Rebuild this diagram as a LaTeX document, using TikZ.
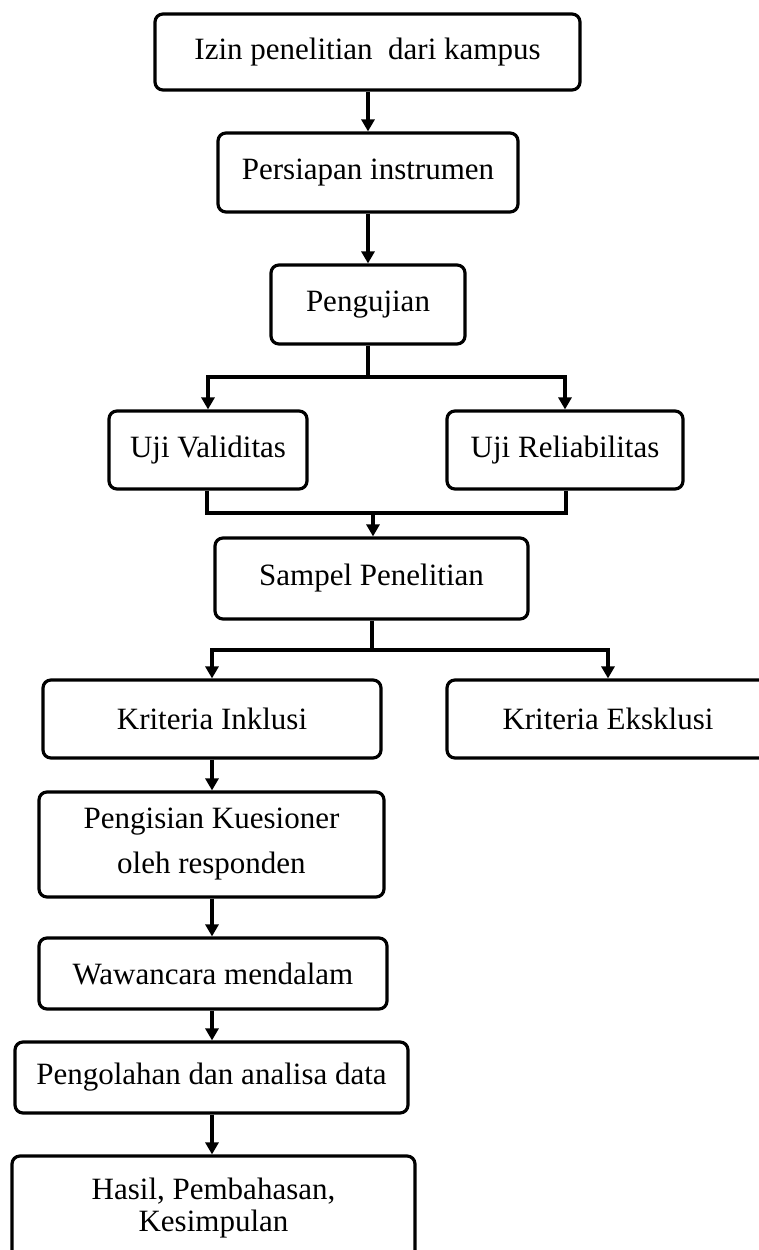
\documentclass[tikz,border=0pt]{standalone}
\usepackage{fontspec}
\setmainfont{Liberation Serif}
\usetikzlibrary{arrows.meta}
\tikzset{
  box/.style={draw=black, line width=3.2pt, rounded corners=8pt, inner sep=0pt,
    align=center, font=\fontsize{31}{36}\selectfont},
  conn/.style={draw=black, line width=3.2pt},
  arr/.style={conn, -{Triangle[width=13pt,length=12pt]}},
}
\begin{document}
\begin{tikzpicture}[x=1pt,y=-1pt]
\useasboundingbox (0,0) rectangle (759,1250);
\clip (0,0) rectangle (759,1250);
\fill[white] (0,0) rectangle (759,1250);

\node[box, minimum width=425pt, minimum height=76pt] (b1) at (367.5,52) {Izin penelitian\ \ dari kampus};
\node[box, minimum width=300pt, minimum height=79pt] (b2) at (368,172.5) {Persiapan instrumen};
\node[box, minimum width=194pt, minimum height=79pt] (b3) at (368,304.5) {Pengujian};
\node[box, minimum width=198pt, minimum height=78pt] (b4) at (208,450) {Uji Validitas};
\node[box, minimum width=236pt, minimum height=78pt] (b5) at (565,450) {Uji Reliabilitas};
\node[box, minimum width=313pt, minimum height=81pt] (b6) at (371.5,578.5) {Sampel Penelitian};
\node[box, minimum width=338pt, minimum height=78pt] (b7) at (212,719) {Kriteria Inklusi};
\node[box, minimum width=322pt, minimum height=78pt] (b8) at (608,719) {Kriteria Eksklusi};
\node[box, minimum width=345pt, minimum height=105pt] (b9) at (211.5,844.5) {Pengisian Kuesioner\\[9pt]oleh responden};
\node[box, minimum width=348pt, minimum height=71pt] (b10) at (213,973.5) {Wawancara mendalam};
\node[box, minimum width=393pt, minimum height=71pt] (b11) at (211.5,1077.5) {Pengolahan dan analisa data};
\node[box, minimum width=403pt, minimum height=104pt] (b12) at (213.5,1208) {Hasil, Pembahasan,\\[-4pt]Kesimpulan};

\coordinate (c1) at (368,0);
\coordinate (s3) at (368,377);
\coordinate (m4) at (207,513);
\coordinate (m5) at (566,513);
\coordinate (m6) at (373,513);
\coordinate (s6) at (372,650);
\coordinate (e8) at (608,650);
\coordinate (c2) at (212,0);

\draw[arr] (b1.south -| c1) -- (b2.north -| c1);
\draw[arr] (b2.south -| c1) -- (b3.north -| c1);
\draw[conn] (b3.south -| c1) -- (s3);
\draw[arr] (s3) -| (b4.north);
\draw[arr] (s3) -| (b5.north);
\draw[conn] (b4.south -| m4) -- (m4) -- (m5) -- (b5.south -| m5);
\draw[arr] (m6) -- (m6 |- b6.north);
\draw[conn] (b6.south -| s6) -- (s6);
\draw[arr] (s6) -| (b7.north);
\draw[arr] (s6) -- (e8) -- (b8.north);
\draw[arr] (b7.south -| c2) -- (b9.north -| c2);
\draw[arr] (b9.south -| c2) -- (b10.north -| c2);
\draw[arr] (b10.south -| c2) -- (b11.north -| c2);
\draw[arr] (b11.south -| c2) -- (b12.north -| c2);
\end{tikzpicture}
\end{document}
